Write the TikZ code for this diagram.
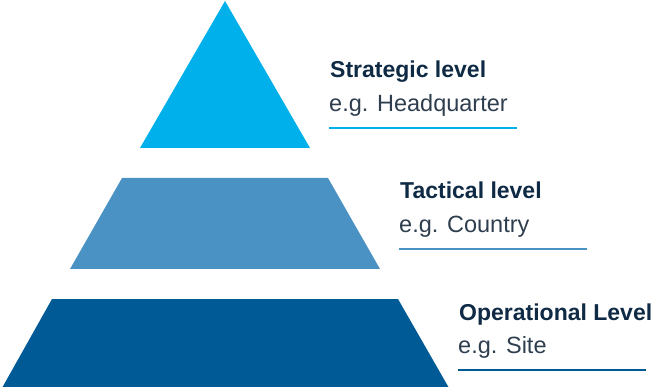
\documentclass[tikz,border=0pt]{standalone}
\usepackage{fontspec}
\setmainfont{Liberation Sans}
\usetikzlibrary{positioning}

\definecolor{topblue}{HTML}{00B0EA}
\definecolor{midblue}{HTML}{4A92C3}
\definecolor{lowblue}{HTML}{005A96}
\definecolor{navy}{HTML}{0F2A44}
\definecolor{slate}{HTML}{2E3E4E}

\begin{document}
\begin{tikzpicture}
[x=1pt, y=-1pt,
% STYLES
% The level style is used to draw the name of each level
level/.style={anchor=base west, inner sep=0pt, text=navy, font=\fontsize{23}{27}\selectfont\bfseries},
% The example style is used for the example under each name
example/.style={anchor=base west, inner sep=0pt, text=slate, font=\fontsize{23.5}{27}\selectfont},
% The rule style is used for the line under each example
rule/.style={line width=2.6pt}]

\useasboundingbox (0,0) rectangle (653,387);

% Draw the pyramid
\fill[topblue] (225,1) -- (310,148) -- (140,148) -- cycle;
\fill[midblue] (122,178) -- (328,178) -- (380,269) -- (70,269) -- cycle;
\fill[lowblue] (52,299) -- (398,299) -- (449,388) -- (2,388) -- cycle;

% STRATEGIC
\node [level] (strategic) at (330,78) {Strategic level};
\node [example] (strategic-eg) at (329,112) {e.g. Headquarter};
% TACTICAL
\node [level] (tactical) at (400,199) {Tactical level};
\node [example] (tactical-eg) at (399,233) {e.g. Country};
% OPERATIONAL
\node [level] (operational) at (459,320) {Operational Level};
\node [example] (operational-eg) at (458,353) {e.g. Site};

% Draw the lines under the examples
\coordinate (strategic-end) at (517,128);
\coordinate (tactical-end) at (587,249);
\coordinate (operational-end) at (646,370);
\draw[rule, topblue] (strategic-end -| strategic-eg.west) -- (strategic-end);
\draw[rule, midblue] (tactical-end -| tactical-eg.west) -- (tactical-end);
\draw[rule, lowblue] (operational-end -| operational-eg.west) -- (operational-end);

\end{tikzpicture}
\end{document}
